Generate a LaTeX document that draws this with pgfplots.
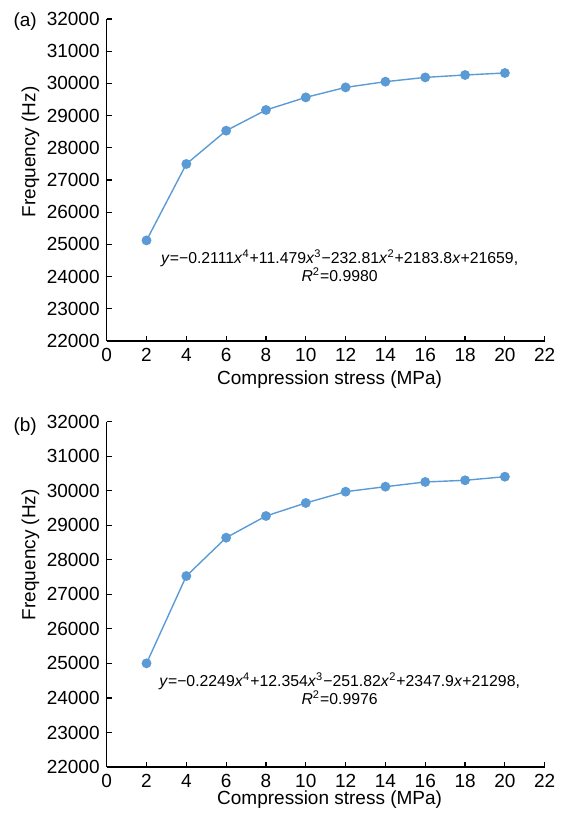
\documentclass[border=0pt]{standalone}
\usepackage{fontspec}
\setmainfont{Liberation Sans}
\usepackage{pgfplots}
\pgfplotsset{compat=1.18}
\definecolor{ptblue}{HTML}{5B9BD5}

\pgfplotsset{
  panel/.style={
    scale only axis,
    width=219pt,
    axis lines*=left,
    xmin=0, xmax=22, ymin=22000, ymax=32000,
    xtick={0,2,...,22}, ytick={22000,23000,...,32000},
    tick align=inside,
    major tick length=2.5pt,
    tick style={black, line width=0.6pt},
    axis line style={black, line width=0.6pt},
    /pgf/number format/assume math mode=true,
    scaled y ticks=false,
    yticklabel style={/pgf/number format/.cd, fixed, 1000 sep={}},
    xlabel={Compression stress (MPa)},
    ylabel={Frequency (Hz)},
    every tick label/.append style={font=\fontsize{9.5}{11}\selectfont},
    label style={font=\fontsize{9.5}{11}\selectfont},
    clip=false,
  },
  series/.style={color=ptblue, line width=0.7pt, mark=*, mark size=2.1pt,
    mark options={fill=ptblue, draw=ptblue}},
}

\begin{document}
\begin{tikzpicture}
\path[use as bounding box] (-53.35pt,-238pt) rectangle (227.65pt,170.5pt);
\begin{axis}[panel, height=161pt, at={(0,0)}, anchor=south west,
  ylabel style={at={(axis description cs:-0.174,0.587)}, anchor=center},
  xlabel style={at={(axis description cs:0.509,-0.121)}, anchor=center}]
\addplot[series] coordinates {
(2,25124) (4,27497) (6,28531) (8,29174) (10,29565)
(12,29876) (14,30053) (16,30186) (18,30261) (20,30323)};
\node[align=center, font=\fontsize{7.9}{9}\selectfont] at (axis cs:11.7,24330)
  {\textit{y}=−0.2111\textit{x}\textsuperscript{4}+11.479\textit{x}\textsuperscript{3}−232.81\textit{x}\textsuperscript{2}+2183.8\textit{x}+21659,\\
   \textit{R}\textsuperscript{2}=0.9980};
\node[anchor=north west, inner sep=0pt, font=\fontsize{9.5}{11}\selectfont] at (rel axis cs:0,1) [xshift=-46.8pt, yshift=3.2pt] {(a)};
\end{axis}
\begin{axis}[panel, height=172.65pt, at={(0,-40.35pt)}, anchor=north west,
  ylabel style={at={(axis description cs:-0.174,0.615)}, anchor=center},
  xlabel style={at={(axis description cs:0.509,-0.0956)}, anchor=center}]
\addplot[series] coordinates {
(2,25003) (4,27531) (6,28641) (8,29269) (10,29646)
(12,29973) (14,30118) (16,30254) (18,30303) (20,30407)};
\node[align=center, font=\fontsize{7.9}{9}\selectfont] at (axis cs:11.7,24260)
  {\textit{y}=−0.2249\textit{x}\textsuperscript{4}+12.354\textit{x}\textsuperscript{3}−251.82\textit{x}\textsuperscript{2}+2347.9\textit{x}+21298,\\
   \textit{R}\textsuperscript{2}=0.9976};
\node[anchor=north west, inner sep=0pt, font=\fontsize{9.5}{11}\selectfont] at (rel axis cs:0,1) [xshift=-46.8pt, yshift=2.4pt] {(b)};
\end{axis}
\end{tikzpicture}
\end{document}
